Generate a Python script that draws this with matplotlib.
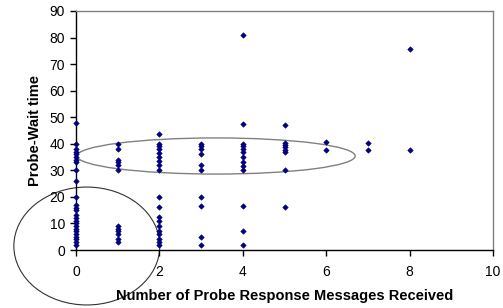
import matplotlib.pyplot as plt
from matplotlib.patches import Ellipse

plt.rcParams['font.family'] = ['Liberation Sans', 'DejaVu Sans']

## Data ---------------------------------------------

col0 = [48, 40, 38, 37, 36, 35, 34, 33, 30, 26, 20, 17, 16, 15, 13, 12, 11, 10, 9, 8, 7, 6, 5, 4, 3, 2]
col1 = [40, 38, 34, 33, 32, 30, 9, 8, 7, 6, 4, 3]
col2 = [43.5, 40, 39, 38, 36.5, 35, 33.5, 32, 30, 20, 16.3, 12.3, 11, 9, 7, 6, 4, 3, 2]
col3 = [40, 39, 38, 36, 32, 30, 20, 16.5, 5, 2]
col4 = [81, 47.5, 40, 39, 38, 37, 35, 33.3, 31.7, 30, 16.5, 7, 2]
col5 = [47, 40.3, 39.5, 38.7, 37.6, 37, 30, 16.3]
col6 = [40.6, 37.7]
col7 = [40.2, 37.6]
col8 = [75.6, 37.6]

columns = [col0, col1, col2, col3, col4, col5, col6, col7, col8]
xticks = [0, 2, 4, 6, 8, 10]
yticks = [0, 10, 20, 30, 40, 50, 60, 70, 80, 90]

## Figure -------------------------------------------

fig = plt.figure(figsize=(5.03, 3.08), dpi=100)
ax = fig.add_axes([76 / 503, 58 / 308, 417 / 503, 239 / 308])

xs, ys = [], []
for n, col in enumerate(columns):
    xs += [n] * len(col)
    ys += col
ax.plot(xs, ys, linestyle='none', marker='D', markersize=2.8,
        color='#000080', markeredgewidth=0.4, zorder=5, clip_on=False)

ax.set_xlim(0, 10)
ax.set_ylim(0, 90)
ax.set_xticks(xticks)
ax.set_yticks(yticks)
ax.tick_params(direction='out', length=4, width=1, labelsize=10, color='black')
ax.tick_params(axis='x', pad=7)
ax.tick_params(axis='y', pad=4)

for side in ['top', 'right']:
    ax.spines[side].set_color('#808080')
    ax.spines[side].set_linewidth(1)
for side in ['left', 'bottom']:
    ax.spines[side].set_color('black')
    ax.spines[side].set_linewidth(1)

ax.set_xlabel('Number of Probe Response Messages Received', fontsize=10.5,
              fontweight='bold', labelpad=7)
ax.set_ylabel('Probe-Wait time', fontsize=10.5, fontweight='bold', labelpad=5)

# circled groups
ax.add_patch(Ellipse((3.36, 35.4), 6.67, 13.6, fill=False, edgecolor='#808080',
                     linewidth=1, clip_on=False))
ax.add_patch(Ellipse((0.26, 1.5), 3.5, 44.4, angle=0, fill=False, edgecolor='#333333',
                     linewidth=0.8, clip_on=False))

fig.savefig('out.png', dpi=100)
